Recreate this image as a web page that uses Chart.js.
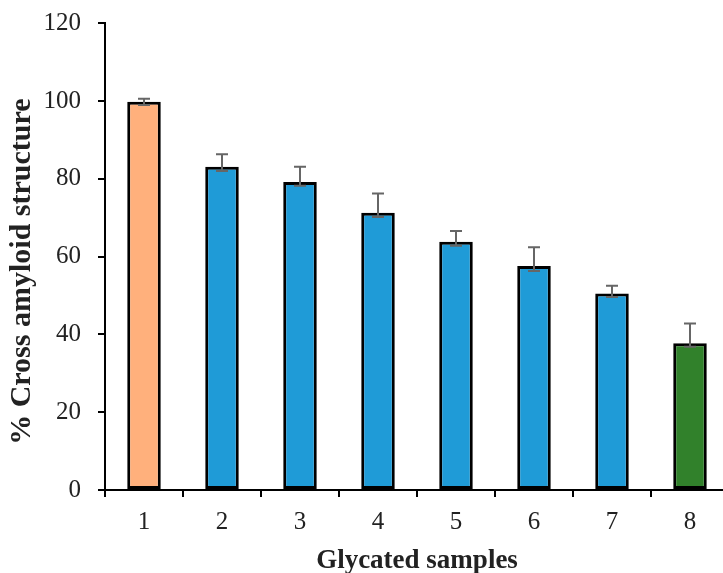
<!DOCTYPE html>
<html>
<head>
<meta charset="utf-8">
<script src="https://cdn.jsdelivr.net/npm/chart.js@4"></script>
<style>
  html, body { margin: 0; padding: 0; background: #fff; overflow: hidden; width: 723px; height: 573px; }
  canvas { display: block; }
</style>
</head>
<body>
<canvas id="myChart" width="730" height="573"></canvas>
<script>
const labels = ["1", "2", "3", "4", "5", "6", "7", "8"];
const values = [99.8, 83.1, 79.2, 71.3, 63.8, 57.6, 50.5, 37.7];
const errUp = [0.8, 3.2, 3.9, 4.9, 2.8, 4.8, 2.0, 5.1];
const errDown = [0.8, 1.1, 1.0, 1.1, 1.0, 1.3, 0.9, 0.9];
const barColors = ["#FFB07C", "#1F9BD7", "#1F9BD7", "#1F9BD7", "#1F9BD7", "#1F9BD7", "#1F9BD7", "#31812B"];
const yTicks = [0, 20, 40, 60, 80, 100, 120];

const serif = "'Liberation Serif', 'Times New Roman', serif";

const errorBars = {
  id: "errorBars",
  afterDatasetsDraw(chart) {
    const { ctx, scales } = chart;
    const meta = chart.getDatasetMeta(0);
    ctx.save();
    ctx.strokeStyle = "#666";
    ctx.lineWidth = 2;
    meta.data.forEach((bar, i) => {
      const x = bar.x;
      const top = scales.y.getPixelForValue(values[i] + errUp[i]);
      const bot = scales.y.getPixelForValue(values[i] - errDown[i]);
      ctx.beginPath();
      ctx.moveTo(x, top);
      ctx.lineTo(x, bot);
      ctx.moveTo(x - 6, top);
      ctx.lineTo(x + 6, top);
      ctx.moveTo(x - 6, bot);
      ctx.lineTo(x + 6, bot);
      ctx.stroke();
    });
    ctx.restore();
  },
};

const ctx = document.getElementById("myChart").getContext("2d");
const myChart = new Chart(ctx, {
  type: "bar",
  data: {
    labels: labels,
    datasets: [
      {
        data: values,
        backgroundColor: barColors,
        borderColor: "#000",
        borderWidth: 3,
        borderSkipped: false,
        barPercentage: 0.43,
        categoryPercentage: 1,
      },
    ],
  },
  options: {
    responsive: false,
    animation: false,
    layout: { padding: { top: 9, right: 1, bottom: 0, left: 0 } },
    plugins: { legend: { display: false }, tooltip: { enabled: false } },
    scales: {
      x: {
        afterFit: (s) => { s.height = 83; },
        border: { color: "#000", width: 2 },
        grid: { drawOnChartArea: false, color: "#000", lineWidth: 2, tickLength: 7, offset: true },
        ticks: { color: "#222", font: { family: serif, size: 25 }, padding: 10 },
        title: {
          display: true,
          text: "Glycated samples",
          color: "#222",
          font: { family: serif, size: 27, weight: "bold" },
          padding: { top: 0, bottom: -4 },
        },
      },
      y: {
        min: 0,
        max: 120,
        afterFit: (s) => { s.width = 105; },
        afterBuildTicks: (s) => { s.ticks = yTicks.map((v) => ({ value: v })); },
        border: { color: "#000", width: 2 },
        grid: { drawOnChartArea: false, color: "#000", lineWidth: 2, tickLength: 7 },
        ticks: { color: "#222", font: { family: serif, size: 25, lineHeight: 0.5 }, padding: 17 },
        title: {
          display: true,
          text: "% Cross amyloid structure\u00A0\u00A0\u00A0\u00A0",
          color: "#222",
          font: { family: serif, size: 30, weight: "bold" },
          padding: { top: 4, bottom: 0 },
        },
      },
    },
  },
  plugins: [errorBars],
});
</script>
</body>
</html>
